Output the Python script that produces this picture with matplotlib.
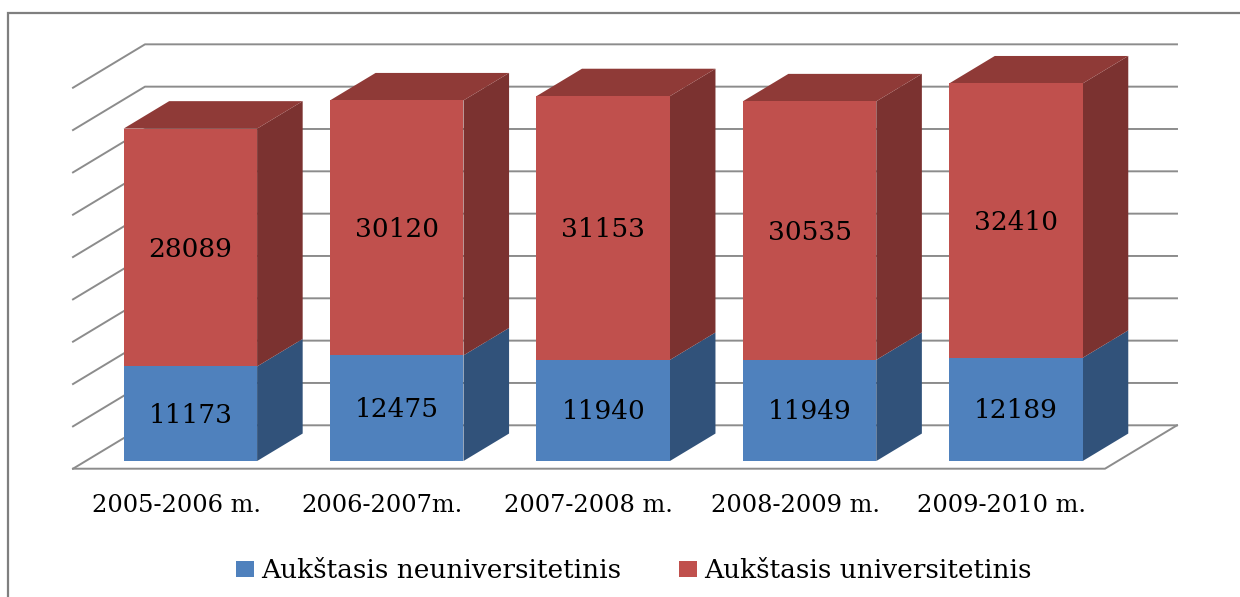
import matplotlib
matplotlib.use('Agg')
import matplotlib.pyplot as plt
from matplotlib.patches import Patch, Polygon

categories = ['2005-2006 m.', '2006-2007m.', '2007-2008 m.', '2008-2009 m.', '2009-2010 m.']
neuniversitetinis = [11173, 12475, 11940, 11949, 12189]
universitetinis = [28089, 30120, 31153, 30535, 32410]
grid_values = list(range(0, 50000, 5000))

W, H = 1240, 597
PX_PER_X = 206.4      # pixels for one category
PX_PER_V = 42.33 / 5000  # pixels for one unit of value
X0_PX, Y0_PX = 177.6, 468.7   # category 0, value 0, front of the floor

# the fake 3d: how far the whole depth of the floor shifts a point
DEPTH_X = 72 / PX_PER_X
DEPTH_V = 43.4 / PX_PER_V
BAR_W = 133.5 / PX_PER_X
T_FRONT, T_BACK = 0.177, 0.81

blue = ('#4f81bd', '#31527a')
red = ('#c0504d', '#7b3230', '#8f3a37')
font = 'DejaVu Serif'


def pt(x, v, t=0.0):
    return (x + DEPTH_X * t, v + DEPTH_V * t)


fig = plt.figure(figsize=(W / 100, H / 100), dpi=100)
ax = fig.add_axes([0, 0, 1, 1])
ax.set_xlim(-X0_PX / PX_PER_X, (W - X0_PX) / PX_PER_X)
ax.set_ylim((Y0_PX - H) / PX_PER_V, Y0_PX / PX_PER_V)
ax.axis('off')

# frame, cut by the picture on the right and the bottom
ax.plot([7.5 / W, 7.5 / W, 1], [0, 1 - 13 / H, 1 - 13 / H], transform=ax.transAxes,
        color='#7f7f7f', lw=1.6, clip_on=False, solid_joinstyle='miter')

# walls
x_left = (73 - X0_PX) / PX_PER_X
x_right = (1105 - X0_PX) / PX_PER_X
grid_color = '#8c8c8c'
for v in grid_values:
    a, b, c = pt(x_left, v), pt(x_left, v, 1), pt(x_right, v, 1)
    ax.plot([a[0], b[0], c[0]], [a[1], b[1], c[1]], color=grid_color, lw=1.4, zorder=1)
floor = [pt(x_left, 0), pt(x_right, 0), pt(x_right, 0, 1)]
ax.plot([p[0] for p in floor], [p[1] for p in floor], color=grid_color, lw=1.4, zorder=1)


def box(x, v0, v1, colors, top=None):
    l, r = x - BAR_W / 2, x + BAR_W / 2
    # front, then side
    front = [pt(l, v0, T_FRONT), pt(r, v0, T_FRONT), pt(r, v1, T_FRONT), pt(l, v1, T_FRONT)]
    side = [pt(r, v0, T_FRONT), pt(r, v0, T_BACK), pt(r, v1, T_BACK), pt(r, v1, T_FRONT)]
    ax.add_patch(Polygon(side, fc=colors[1], ec='none', zorder=3))
    if top:
        roof = [pt(l, v1, T_FRONT), pt(r, v1, T_FRONT), pt(r, v1, T_BACK), pt(l, v1, T_BACK)]
        ax.add_patch(Polygon(roof, fc=top, ec='none', zorder=3))
    ax.add_patch(Polygon(front, fc=colors[0], ec='none', zorder=4))


for i, cat in enumerate(categories):
    n, u = neuniversitetinis[i], universitetinis[i]
    box(i, 0, n, blue)
    box(i, n, n + u, red[:2], top=red[2])
    for v, lab in [(n / 2, n), (n + u / 2, u)]:
        p = pt(i, v, T_FRONT)
        ax.text(p[0], p[1] - 1.5 / PX_PER_V, str(lab), ha='center', va='center', family=font,
                fontsize=19, color='black', zorder=5)
    ax.text(i - 1.6 / PX_PER_X, (Y0_PX - 506) / PX_PER_V, cat, ha='center', va='center',
            family=font, fontsize=17.4, color='black')

handles = [Patch(fc=blue[0], label='Aukštasis neuniversitetinis'),
           Patch(fc=red[0], label='Aukštasis universitetinis')]
ax.legend(handles=handles, ncol=2, loc='center', bbox_to_anchor=(634 / W, 1 - 571 / H),
          frameon=False, prop={'family': font, 'size': 19},
          handlelength=0.68, handleheight=0.53, handletextpad=0.27, columnspacing=2.2)

fig.savefig('out.png', dpi=100)
